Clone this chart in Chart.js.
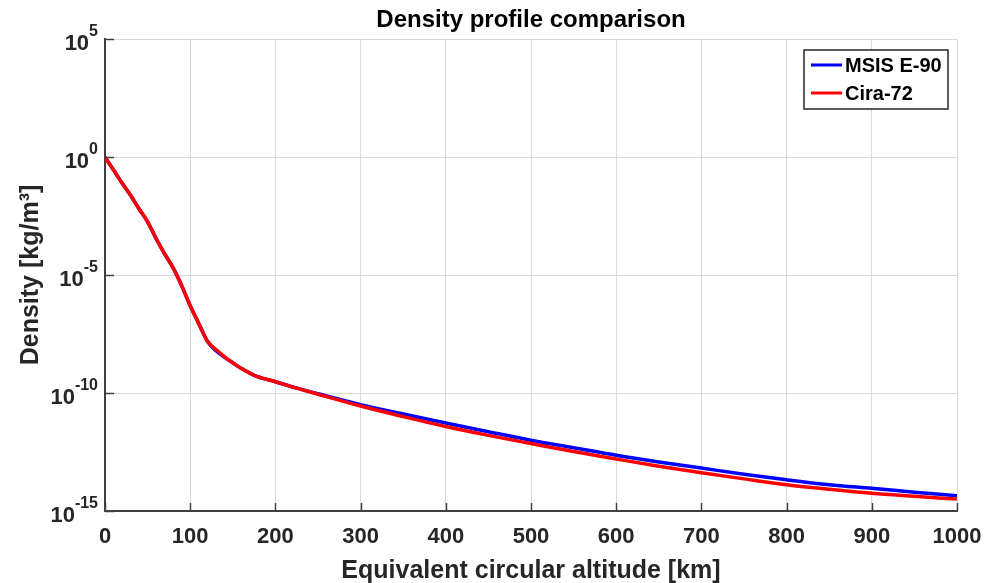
<!DOCTYPE html>
<html>
<head>
<meta charset="utf-8">
<script src="https://cdn.jsdelivr.net/npm/chart.js@4/dist/chart.umd.min.js"></script>
<style>
  html, body { margin: 0; padding: 0; background: #fff; }
  #wrap { width: 988px; height: 583px; }
</style>
</head>
<body>
<div id="wrap"><canvas id="densityChart" width="988" height="583"></canvas></div>
<script>
// altitudes [km]
const altitudeKm = [0, 10, 20, 30, 40, 50, 60, 70, 80, 90, 100, 110, 120, 130, 140, 150, 160, 175, 200, 225,
  250, 300, 350, 400, 450, 500, 550, 600, 650, 700, 750, 800, 850, 900, 950, 1000];

// density [kg/m3]
const msisDensity = [1.0, 0.28, 7.9e-2, 2.4e-2, 6.3e-3, 1.8e-3, 3.5e-4, 7.9e-5, 2.0e-5, 3.5e-6, 5.0e-7, 8.9e-8, 1.6e-8,
  6.3e-9, 3.3e-9, 1.9e-9, 1.1e-9, 5.6e-10, 3.0e-10, 1.6e-10,
  9.3e-11, 3.2e-11, 1.3e-11, 5.4e-12, 2.3e-12, 1.0e-12, 4.8e-13, 2.3e-13, 1.2e-13, 6.6e-14, 3.6e-14, 2.1e-14,
  1.3e-14, 9.1e-15, 6.3e-15, 4.4e-15];

const ciraDensity = [1.0, 0.28, 7.9e-2, 2.4e-2, 6.3e-3, 1.8e-3, 3.5e-4, 7.9e-5, 2.0e-5, 3.5e-6, 5.0e-7, 8.9e-8, 1.6e-8,
  7.1e-9, 3.5e-9, 1.9e-9, 1.1e-9, 5.6e-10, 3.0e-10, 1.6e-10,
  8.9e-11, 2.8e-11, 1.0e-11, 3.8e-12, 1.6e-12, 7.2e-13, 3.3e-13, 1.6e-13, 7.9e-14, 4.2e-14, 2.3e-14, 1.3e-14,
  8.3e-15, 5.6e-15, 4.2e-15, 3.2e-15];

const xTickValues = [0, 100, 200, 300, 400, 500, 600, 700, 800, 900, 1000];
const yTickExponents = [5, 0, -5, -10, -15];

const seriesNames = ['MSIS E-90', 'Cira-72'];
const seriesColors = ['#0000ff', '#ff0000'];

const FONT = '"Liberation Sans", Arial, Helvetica, sans-serif';
const TEXT = '#262626';
const AXIS = '#404040';

// cosas que Chart.js no hace solo: ticks hacia dentro, etiquetas 10^n, títulos y leyenda
const decorPlugin = {
  id: 'decor',
  afterDraw(chart) {
    const { ctx, chartArea: a, scales: { x, y } } = chart;
    ctx.save();

    // ticks hacia dentro
    ctx.strokeStyle = AXIS;
    ctx.lineWidth = 1.5;
    xTickValues.forEach(v => {
      const px = Math.round(x.getPixelForValue(v)) + 0.5;
      ctx.beginPath(); ctx.moveTo(px, a.bottom); ctx.lineTo(px, a.bottom - 8); ctx.stroke();
    });
    yTickExponents.forEach(e => {
      const py = Math.round(y.getPixelForValue(Math.pow(10, e))) + 0.5;
      ctx.beginPath(); ctx.moveTo(a.left, py); ctx.lineTo(a.left + 9, py); ctx.stroke();
    });

    // etiquetas del eje y: 10 con exponente
    ctx.fillStyle = TEXT;
    ctx.textBaseline = 'alphabetic';
    yTickExponents.forEach(e => {
      const py = y.getPixelForValue(Math.pow(10, e));
      const expText = String(e);
      ctx.font = 'bold 16px ' + FONT;
      const expW = ctx.measureText(expText).width;
      const right = a.left - 7;
      ctx.textAlign = 'left';
      ctx.fillText(expText, right - expW, py - 3);
      ctx.font = 'bold 22px ' + FONT;
      ctx.textAlign = 'right';
      ctx.fillText('10', right - expW, py + 11);
    });

    // título
    ctx.font = 'bold 24px ' + FONT;
    ctx.textAlign = 'center';
    ctx.fillStyle = '#000';
    ctx.fillText('Density profile comparison', (a.left + a.right) / 2, 27);

    // título eje x
    ctx.fillStyle = TEXT;
    ctx.font = 'bold 25px ' + FONT;
    ctx.fillText('Equivalent circular altitude [km]', (a.left + a.right) / 2, 578);

    // título eje y
    ctx.save();
    ctx.translate(38, (a.top + a.bottom) / 2);
    ctx.rotate(-Math.PI / 2);
    ctx.fillText('Density [kg/m³]', 0, 0);
    ctx.restore();

    // leyenda
    const lx = 804, ly = 50, lw = 144, lh = 59;
    ctx.fillStyle = '#fff';
    ctx.fillRect(lx, ly, lw, lh);
    ctx.strokeStyle = '#262626';
    ctx.lineWidth = 1.5;
    ctx.strokeRect(lx, ly, lw, lh);
    ctx.font = 'bold 20px ' + FONT;
    ctx.textAlign = 'left';
    ctx.textBaseline = 'middle';
    seriesNames.forEach((name, i) => {
      const rowY = ly + 15 + i * 28;
      ctx.strokeStyle = seriesColors[i];
      ctx.lineWidth = 3;
      ctx.beginPath(); ctx.moveTo(lx + 7, rowY); ctx.lineTo(lx + 38, rowY); ctx.stroke();
      ctx.fillStyle = '#000';
      ctx.fillText(name, lx + 41, rowY + 1);
    });

    ctx.restore();
  }
};

const ctx = document.getElementById('densityChart').getContext('2d');
new Chart(ctx, {
  type: 'line',
  data: {
    datasets: [
      {
        label: seriesNames[0],
        data: altitudeKm.map((h, i) => ({ x: h, y: msisDensity[i] })),
        borderColor: seriesColors[0],
        borderWidth: 3.5,
        pointRadius: 0,
        cubicInterpolationMode: 'monotone',
        order: 2
      },
      {
        label: seriesNames[1],
        data: altitudeKm.map((h, i) => ({ x: h, y: ciraDensity[i] })),
        borderColor: seriesColors[1],
        borderWidth: 3.5,
        pointRadius: 0,
        cubicInterpolationMode: 'monotone',
        order: 1
      }
    ]
  },
  options: {
    responsive: false,
    animation: false,
    layout: { padding: { top: 39, right: 31, bottom: 0, left: 0 } },
    plugins: {
      legend: { display: false },
      title: { display: false },
      tooltip: { enabled: false }
    },
    scales: {
      x: {
        type: 'linear',
        min: 0,
        max: 1000,
        afterBuildTicks: scale => { scale.ticks = xTickValues.map(v => ({ value: v })); },
        afterFit: scale => { scale.height = 72; scale.paddingLeft = 0; scale.paddingRight = 0; },
        grid: { color: '#d9d9d9', lineWidth: 1, drawTicks: false },
        border: { color: AXIS, width: 2 },
        ticks: {
          color: TEXT,
          padding: 13,
          maxRotation: 0,
          callback: v => String(v),
          font: { family: FONT, size: 22, weight: 'bold' }
        }
      },
      y: {
        type: 'logarithmic',
        min: 1e-15,
        max: 1e5,
        afterBuildTicks: scale => { scale.ticks = yTickExponents.map(e => ({ value: Math.pow(10, e) })); },
        afterFit: scale => { scale.width = 105; scale.paddingTop = 0; scale.paddingBottom = 0; },
        grid: { color: '#d9d9d9', lineWidth: 1, drawTicks: false },
        border: { color: AXIS, width: 2 },
        ticks: { display: false }
      }
    }
  },
  plugins: [decorPlugin]
});
</script>
</body>
</html>
